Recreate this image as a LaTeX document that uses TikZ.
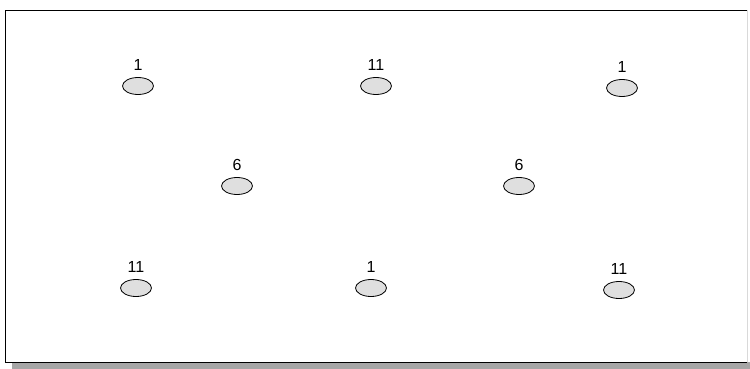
\documentclass[tikz,border=0pt]{standalone}
\usepackage{fontspec}
\setmainfont{Liberation Sans}
\usetikzlibrary{shapes.geometric,positioning}
\tikzset{
  cell/.style={ellipse,draw=black,line width=0.8pt,fill=gray!25,minimum width=31pt,minimum height=17pt,inner sep=0pt},
  lbl/.style={font=\fontsize{16}{16}\selectfont,inner sep=0pt}
}
\begin{document}
\begin{tikzpicture}[x=1pt,y=-1pt]
\useasboundingbox (0,0) rectangle (750,369);
\fill[white] (0,0) rectangle (750,369);
\fill[gray!70] (12,362) rectangle (750,369);
\draw[black,line width=0.9pt] (747,10) -- (5,10) -- (5,362) -- (747,362);
\draw[gray!30,line width=0.6pt] (747,10) -- (747,362);
\foreach \n/\x/\y/\t in {a/138/86/1, b/376/86/11, c/622/88/1, d/237/186/6, e/519/186/6, f/136/288/11, g/371/288/1, h/619/290/11}{
  \node[cell] (\n) at (\x,\y) {};
  \node[lbl,above=6pt of \n.north] (\n l) {\t};
}
\end{tikzpicture}
\end{document}
